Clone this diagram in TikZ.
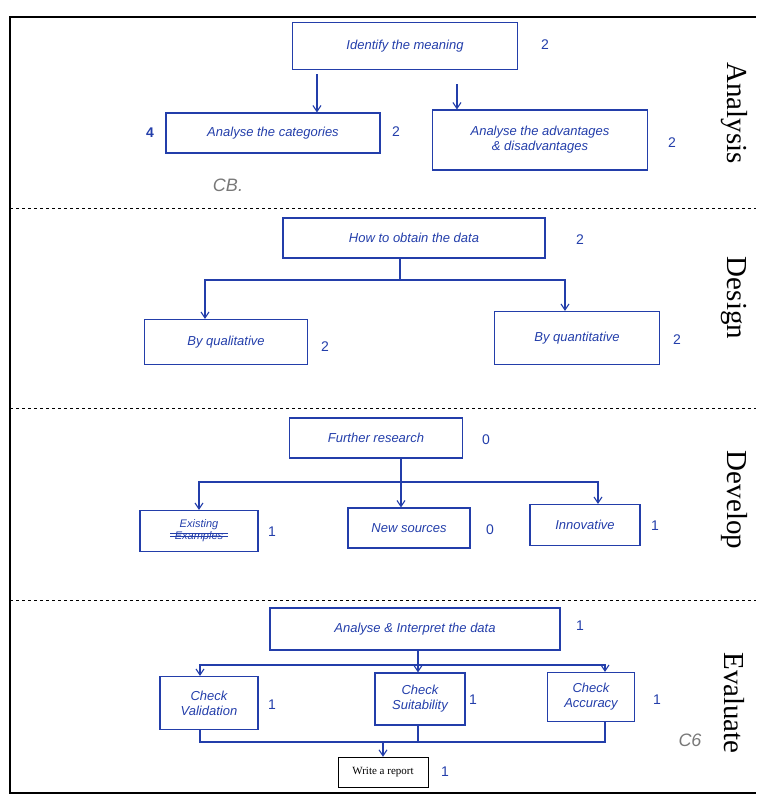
\documentclass[tikz,border=0pt]{standalone}
\usepackage{fontspec}
\setmainfont{Liberation Serif}
\newfontfamily\handfont{Liberation Sans}
\usetikzlibrary{arrows.meta,positioning,calc}
\definecolor{inkblue}{RGB}{35,62,170}
\definecolor{pencil}{RGB}{120,120,120}
\tikzset{
  ink/.style={draw=inkblue,line width=1.1pt},
  task/.style={ink,text=inkblue,font=\handfont\itshape\fontsize{13}{15}\selectfont,
    align=center,inner sep=2pt},
  score/.style={text=inkblue,font=\handfont\fontsize{14}{16}\selectfont},
  link/.style={draw=inkblue,line width=1.1pt,-{Straight Barb[length=6pt,width=8pt]}},
  stage/.style={rotate=-90,font=\fontsize{29}{31}\selectfont},
  sep/.style={dashed,black,thin},
  note/.style={text=pencil,font=\handfont\itshape\fontsize{18}{20}\selectfont},
}
\begin{document}
\begin{tikzpicture}[x=1pt,y=-1pt]
  \useasboundingbox (0,0) rectangle (756,796);
  % frame and stage separators
  \draw[black,line width=1.3pt] (756,17) -- (10,17) -- (10,793) -- (756,793);
  \foreach \y in {208,408,600} {
    \draw[sep] (10,\y) -- (756,\y);
  }
  \foreach \y/\name in {113/Analysis,298/Design,500/Develop,703/Evaluate} {
    \node[stage] (st-\name) at (734,\y) {\name};
  }

  % Analysis
  \node[task,minimum width=225,minimum height=47] (meaning) at (405,46) {Identify the meaning};
  \node[task,minimum width=214,minimum height=40] (categ) at (273,133) {Analyse the categories};
  \node[task,minimum width=215,minimum height=60] (advan) at (540,140)
    {Analyse the advantages\\ \& disadvantages};
  \node[score] (s-meaning) at (545,45) {2};
  \node[score] (s-categ) at (396,132) {2};
  \node[score] (s-advan) at (672,143) {2};
  \node[score,font=\handfont\bfseries\fontsize{14}{16}\selectfont] (s-left) at (150,133) {4};
  \node[note] (cb) at (228,185) {CB.};
  \draw[link,shorten <=4pt] ([xshift=25pt]meaning.south west) -- ([xshift=25pt]meaning.south west |- categ.north);
  \draw[link,shorten <=14pt] ([xshift=165pt]meaning.south west) -- ([xshift=165pt]meaning.south west |- advan.north);

  % Design
  \node[task,minimum width=262,minimum height=40] (obtain) at (414,238) {How to obtain the data};
  \node[task,minimum width=163,minimum height=45] (quali) at (226,342) {By qualitative};
  \node[task,minimum width=165,minimum height=53] (quanti) at (577,338) {By quantitative};
  \node[score] (s-obtain) at (580,240) {2};
  \node[score] (s-quali) at (325,347) {2};
  \node[score] (s-quanti) at (677,340) {2};
  \coordinate (d-fork) at (400,280);
  \draw[ink] (obtain.south -| d-fork) -- (d-fork);
  \draw[link] (d-fork) -| ([xshift=-21pt]quali.north);
  \draw[link] (d-fork) -| ([xshift=-12pt]quanti.north);

  % Develop
  \node[task,minimum width=118,minimum height=41,font=\handfont\itshape\fontsize{11}{12}\selectfont]
    (exist) at (199,531) {Existing\\ Examples};
  \draw[ink,line width=0.8pt] ([xshift=-29pt,yshift=-2.5pt]exist.center) -- ([xshift=29pt,yshift=-2.5pt]exist.center);
  \draw[ink,line width=0.8pt] ([xshift=-29pt,yshift=-5.5pt]exist.center) -- ([xshift=29pt,yshift=-5.5pt]exist.center);
  \node[task,minimum width=173,minimum height=40] (further) at (376,438) {Further research};
  \node[task,minimum width=122,minimum height=40] (newsrc) at (409,528) {New sources};
  \node[task,minimum width=110,minimum height=41] (innov) at (585,525) {Innovative};
  \node[score] (s-further) at (486,440) {0};
  \node[score] (s-exist) at (272,532) {1};
  \node[score] (s-newsrc) at (490,530) {0};
  \node[score] (s-innov) at (655,526) {1};
  \coordinate (v-fork) at (401,482);
  \draw[ink] (further.south -| v-fork) -- (v-fork);
  \draw[link] (v-fork) -| (exist.north);
  \draw[link] (v-fork) -- (v-fork |- newsrc.north);
  \draw[link] (v-fork) -| ([xshift=13pt]innov.north);

  % Evaluate
  \node[task,minimum width=290,minimum height=42] (interp) at (415,629) {Analyse \& Interpret the data};
  \node[task,minimum width=98,minimum height=53] (valid) at (209,703) {Check\\ Validation};
  \node[task,minimum width=90,minimum height=52] (suit) at (420,699) {Check\\ Suitability};
  \node[task,minimum width=87,minimum height=49] (accur) at (591,697) {Check\\ Accuracy};
  \node[draw=black,thin,minimum width=90,minimum height=30,font=\fontsize{11}{13}\selectfont]
    (report) at (383,772) {Write a report};
  \node[score] (s-interp) at (580,626) {1};
  \node[score] (s-valid) at (272,705) {1};
  \node[score] (s-suit) at (473,700) {1};
  \node[score] (s-accur) at (657,700) {1};
  \node[score] (s-report) at (445,772) {1};
  \node[note] (c6) at (690,740) {C6};
  \coordinate (e-fork) at (418,665);
  \coordinate (e-join) at (383,742);
  \draw[ink] (interp.south -| e-fork) -- (e-fork);
  \draw[link] (e-fork) -| ([xshift=-9pt]valid.north);
  \draw[link] (e-fork) -- (e-fork |- suit.north);
  \draw[link] (e-fork) -| ([xshift=14pt]accur.north);
  \draw[ink] ([xshift=-9pt]valid.south) |- (e-join);
  \draw[ink] ([xshift=-2pt]suit.south) -- ([xshift=-2pt]suit.south |- e-join);
  \draw[ink] ([xshift=14pt]accur.south) |- (e-join);
  \draw[link] (e-join) -- (report.north);
\end{tikzpicture}
\end{document}
